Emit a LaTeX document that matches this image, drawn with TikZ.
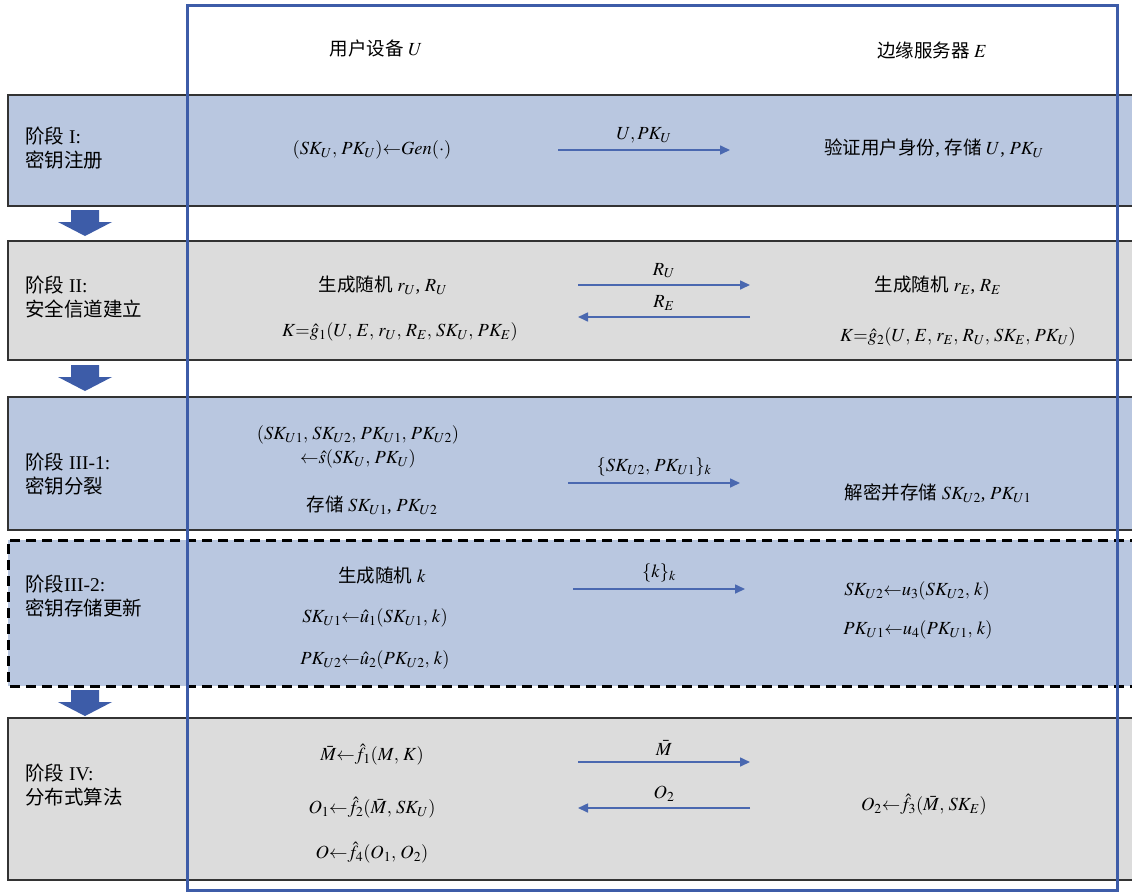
\documentclass[tikz,border=0pt]{standalone}
\usepackage{mathptmx}
\usepackage{fontspec}
\setmainfont{Liberation Serif}
\newfontfamily\cjk{Noto Sans CJK SC}
\usetikzlibrary{arrows.meta}
\definecolor{bandblue}{HTML}{B9C7E0}
\definecolor{bandgray}{HTML}{DCDCDC}
\definecolor{frameblue}{HTML}{3D5CA8}
\definecolor{arrblue}{HTML}{4A68B0}
\definecolor{boxline}{HTML}{333333}
\newcommand{\lar}{{\leftarrow}}
\begin{document}
\begin{tikzpicture}[x=1pt,y=-1pt,
  font=\fontsize{18.5}{22}\selectfont,
  bandbox/.style={draw=boxline, line width=1.8pt},
  dashbox/.style={draw=black, line width=3pt, dash pattern=on 10pt off 6pt},
  txt/.style={inner sep=0pt, anchor=center},
  phase/.style={inner sep=0pt, anchor=west, align=left, font=\fontsize{19.5}{24}\selectfont},
  msg/.style={draw=arrblue, line width=1.6pt, -{Triangle[length=10pt,width=9pt]}},
  msglbl/.style={inner sep=0pt, above=6pt},
  blkarrow/.style={fill=frameblue, draw=none}]
\useasboundingbox (0,0) rectangle (1132,892);
\clip (0,0) rectangle (1132,892);
\fill[white] (0,0) rectangle (1132,892);

% bands
\path[bandbox, fill=bandblue] (8,95) rectangle (1140,206);
\path[bandbox, fill=bandgray] (8,241) rectangle (1140,360);
\path[bandbox, fill=bandblue] (8,397) rectangle (1140,530);
\path[fill=bandblue] (8,540) rectangle (1140,686);
\path[dashbox] (1140,540) -- (8,540) -- (8,686) -- (1140,686);
\path[bandbox, fill=bandgray] (8,718) rectangle (1140,880);

% block arrows
\foreach \yy in {210,365,690}{
  \fill[blkarrow] (71,\yy) -- (99,\yy) -- (99,\yy+12) -- (112,\yy+12)
     -- (85,\yy+26) -- (58,\yy+12) -- (71,\yy+12) -- cycle;
}

% frame
\draw[frameblue, line width=3pt] (187,5) rectangle (1117,890);

% headers
\node[txt] (hu) at (376,48) {{\cjk 用户设备} $U$};
\node[txt] (he) at (932,50) {{\cjk 边缘服务器} $E$};

% phase labels
\node[phase] (p1) at (25,148) {{\cjk 阶段} I:\\{\cjk 密钥注册}};
\node[phase] (p2) at (25,297) {{\cjk 阶段} II:\\{\cjk 安全信道建立}};
\node[phase] (p3) at (25,474) {{\cjk 阶段} III-1:\\{\cjk 密钥分裂}};
\node[phase] (p4) at (25,596) {{\cjk 阶段}III-2:\\{\cjk 密钥存储更新}};
\node[phase] (p5) at (25,785) {{\cjk 阶段} IV:\\{\cjk 分布式算法}};

% phase I
\node[txt] (u1) at (372,150) {$(SK_U,\,PK_U)\lar\mathit{Gen}(\cdot)$};
\node[txt] (e1) at (934,148) {{\cjk 验证用户身份}, {\cjk 存储} $U$, $PK_U$};
\coordinate (a1s) at (558,150);
\coordinate (a1e) at (730,150);
\draw[msg] (a1s) -- node[msglbl] (l1) {$U, PK_U$} (a1e);

% phase II
\node[txt] (u2a) at (383,285) {{\cjk 生成随机} $r_U$, $R_U$};
\node[txt] (u2b) at (400,332) {$K{=}\hat{g}_1(U,\,E,\,r_U,\,R_E,\,SK_U,\,PK_E)$};
\node[txt] (e2a) at (938,285) {{\cjk 生成随机} $r_E$, $R_E$};
\node[txt] (e2b) at (958,337) {$K{=}\hat{g}_2(U,\,E,\,r_E,\,R_U,\,SK_E,\,PK_U)$};
\coordinate (a2s) at (578,285);
\coordinate (a2e) at (750,285);
\coordinate (a3s) at (750,317);
\coordinate (a3e) at (578,317);
\draw[msg] (a2s) -- node[msglbl] (l2) {$R_U$} (a2e);
\draw[msg] (a3s) -- node[msglbl] (l3) {$R_E$} (a3e);

% phase III-1
\node[txt] (u3a) at (358,435) {$(SK_{U1},\,SK_{U2},\,PK_{U1},\,PK_{U2})$};
\node[txt] (u3b) at (358,459) {$\lar\hat{s}(SK_U,\,PK_U)$};
\node[txt] (u3c) at (372,505) {{\cjk 存储} $SK_{U1}$, $PK_{U2}$};
\node[txt] (e3) at (938,493) {{\cjk 解密并存储} $SK_{U2}$, $PK_{U1}$};
\coordinate (a4s) at (568,483);
\coordinate (a4e) at (740,483);
\draw[msg] (a4s) -- node[msglbl] (l4) {$\{SK_{U2},\,PK_{U1}\}_k$} (a4e);

% phase III-2
\node[txt] (u4a) at (382,576) {{\cjk 生成随机} $k$};
\node[txt] (u4b) at (375,618) {$SK_{U1}\lar\hat{u}_1(SK_{U1},\,k)$};
\node[txt] (u4c) at (375,660) {$PK_{U2}\lar\hat{u}_2(PK_{U2},\,k)$};
\node[txt] (e4a) at (917,591) {$SK_{U2}\lar u_3(SK_{U2},\,k)$};
\node[txt] (e4b) at (918,630) {$PK_{U1}\lar u_4(PK_{U1},\,k)$};
\coordinate (a5s) at (573,589);
\coordinate (a5e) at (745,589);
\draw[msg] (a5s) -- node[msglbl] (l5) {$\{k\}_k$} (a5e);

% phase IV
\node[txt] (u5a) at (372,755) {$\bar{M}\lar\hat{f}_1(M,\,K)$};
\node[txt] (u5b) at (372,808) {$O_1\lar\hat{f}_2(\bar{M},\,SK_U)$};
\node[txt] (u5c) at (372,853) {$O\lar\hat{f}_4(O_1,\,O_2)$};
\node[txt] (e5) at (924,805) {$O_2\lar\hat{f}_3(\bar{M},\,SK_E)$};
\coordinate (a6s) at (578,762);
\coordinate (a6e) at (750,762);
\coordinate (a7s) at (750,808);
\coordinate (a7e) at (578,808);
\draw[msg] (a6s) -- node[msglbl] (l6) {$\bar{M}$} (a6e);
\draw[msg] (a7s) -- node[msglbl] (l7) {$O_2$} (a7e);
\end{tikzpicture}
\end{document}
